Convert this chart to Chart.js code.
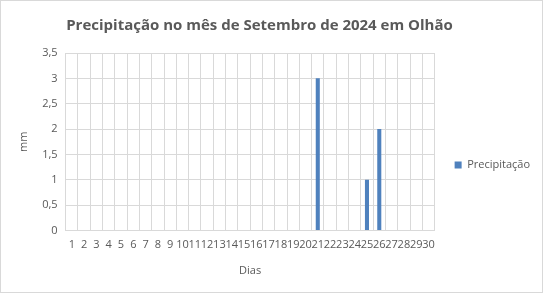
<!DOCTYPE html>
<html>
<head>
<meta charset="utf-8">
<script src="https://cdn.jsdelivr.net/npm/chart.js@4"></script>
<style>
    html, body { margin: 0; padding: 0; background: #fff; }
    #wrap { position: relative; width: 541px; height: 291px; border: 1px solid #d9d9d9; }
</style>
</head>
<body>
<div id="wrap"><canvas id="rainChart"></canvas></div>
<script>
const dias = ['1','2','3','4','5','6','7','8','9','10','11','12','13','14','15',
              '16','17','18','19','20','21','22','23','24','25','26','27','28','29','30'];
const precipitacao = [0,0,0,0,0,0,0,0,0,0,0,0,0,0,0,
                      0,0,0,0,0,3,0,0,0,1,2,0,0,0,0];
const yTicks = [0, 0.5, 1, 1.5, 2, 2.5, 3, 3.5];

const fontFamily = "'Open Sans', 'Liberation Sans', sans-serif";
const textGrey = '#595959';

// espaço extra à esquerda da legenda e pequenos ajustes de posição
const layoutTweaks = {
    id: 'layoutTweaks',
    afterInit(chart) {
        const legend = chart.legend;
        const origFit = legend.fit.bind(legend);
        legend.fit = function () {
            origFit();
            this.width += 10;
        };
    },
    afterLayout(chart) {
        const legend = chart.legend;
        legend.left += 16;
        legend.top += 22;
        legend.bottom += 22;
        const t = chart.titleBlock;
        t.left -= 14;
        t.right -= 14;
    }
};

document.addEventListener('DOMContentLoaded', () => {
    const ctx = document.getElementById('rainChart').getContext('2d');

    new Chart(ctx, {
        type: 'bar',
        data: {
            labels: dias,
            datasets: [{
                label: 'Precipitação',
                data: precipitacao,
                backgroundColor: '#4f81bd',
                borderWidth: 0,
                barPercentage: 0.55,
                categoryPercentage: 0.6
            }]
        },
        plugins: [layoutTweaks],
        options: {
            responsive: true,
            maintainAspectRatio: false,
            animation: false,
            layout: { padding: { left: 12, right: 8, top: 4, bottom: 11 } },
            plugins: {
                title: {
                    display: true,
                    text: 'Precipitação no mês de Setembro de 2024 em Olhão',
                    color: textGrey,
                    font: { family: fontFamily, size: 15, weight: 'bold' },
                    padding: { top: 12, bottom: 18 }
                },
                legend: {
                    position: 'right',
                    labels: {
                        color: textGrey,
                        font: { family: fontFamily, size: 11 },
                        boxWidth: 7,
                        boxHeight: 7,
                        padding: 4
                    }
                },
                tooltip: { enabled: false }
            },
            scales: {
                x: {
                    grid: { color: '#d9d9d9', offset: true, drawTicks: false },
                    border: { color: '#d9d9d9' },
                    ticks: {
                        color: textGrey,
                        font: { family: fontFamily, size: 11 },
                        maxRotation: 0,
                        autoSkip: false,
                        padding: 8
                    },
                    title: {
                        display: true,
                        text: 'Dias',
                        color: textGrey,
                        font: { family: fontFamily, size: 11 },
                        padding: { top: 4 }
                    }
                },
                y: {
                    min: 0,
                    max: 3.5,
                    afterBuildTicks: axis => {
                        axis.ticks = yTicks.map(v => ({ value: v }));
                    },
                    grid: { color: '#d9d9d9', drawTicks: false },
                    border: { color: '#d9d9d9' },
                    ticks: {
                        color: textGrey,
                        font: { family: fontFamily, size: 11 },
                        padding: 8,
                        callback: v => v.toLocaleString('pt-PT')
                    },
                    title: {
                        display: true,
                        text: 'mm',
                        color: textGrey,
                        font: { family: fontFamily, size: 11 }
                    }
                }
            }
        }
    });
});
</script>
</body>
</html>
